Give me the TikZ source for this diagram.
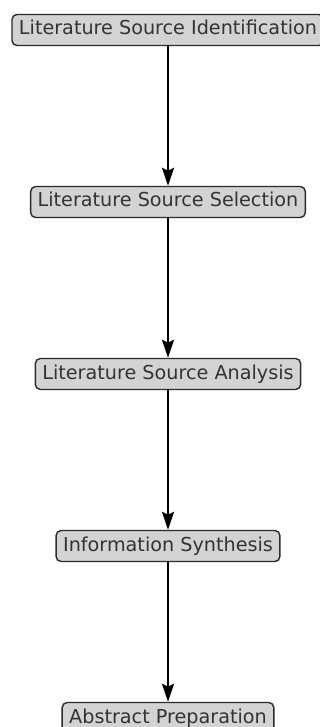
\documentclass[tikz,border=0pt]{standalone}
\usepackage{fontspec}
\setmainfont{DejaVu Sans}
\usetikzlibrary{arrows.meta}
\definecolor{boxfill}{HTML}{D3D3D3}
\definecolor{boxline}{HTML}{2B2B2B}
\definecolor{boxtext}{HTML}{333333}
\begin{document}
\begin{tikzpicture}[x=1pt, y=1pt,
    stage/.style={draw=boxline, line width=1.4pt, fill=boxfill, rounded corners=5pt,
        text=boxtext, font=\fontsize{19.2}{21}\selectfont,
        text height=14pt, text depth=4pt, inner xsep=7pt, inner ysep=6.5pt},
    flow/.style={line width=2.6pt, -{Stealth[length=18pt, width=12pt, inset=3pt]}}]
    % Margini della figura
    \useasboundingbox (0, 0) rectangle (320, -727);
    \clip (0, 0) rectangle (320, -727);

    % Fasi
    \node[stage] (ident) at (168, -30) {Literature Source Identification};
    \node[stage] (select) at (168, -202) {Literature Source Selection};
    \node[stage] (analysis) at (168, -374) {Literature Source Analysis};
    \node[stage] (synth) at (168, -546) {Information Synthesis};
    \node[stage] (abstract) at (168, -718) {Abstract Preparation};

    % Frecce
    \draw[flow] (ident) -- (select);
    \draw[flow] (select) -- (analysis);
    \draw[flow] (analysis) -- (synth);
    \draw[flow] (synth) -- (abstract);
\end{tikzpicture}
\end{document}
